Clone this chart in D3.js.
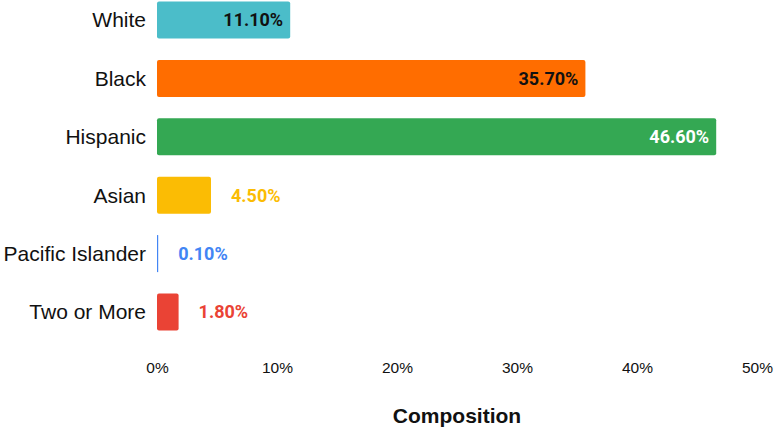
<!DOCTYPE html>
<html>
<head>
<meta charset="utf-8">
<script src="https://cdn.jsdelivr.net/npm/d3@7"></script>
<style>
  html, body { margin: 0; padding: 0; background: #fff; }
  svg { display: block; }
</style>
</head>
<body>
<svg id="chart" width="775" height="430"></svg>
<script>
// Student body composition by race / ethnicity (percent)
const categories = ["White", "Black", "Hispanic", "Asian", "Pacific Islander", "Two or More"];
const values = [11.1, 35.7, 46.6, 4.5, 0.1, 1.8];
const barColors = ["#4BBDC9", "#FF6D00", "#34A853", "#FBBC04", "#4285F4", "#EA4335"];
const insideLabelColors = ["#111", "#111", "#fff", null, null, null];
const tickValues = [0, 10, 20, 30, 40, 50];
const axisTitle = "Composition";

const svg = d3.select("#chart");

const x = d3.scaleLinear().domain([0, 50]).range([157, 757]);
const y = d3.scaleBand().domain(categories).range([1.5, 330.5])
  .paddingInner(0.366).paddingOuter(0);

const rows = categories.map((c, i) => ({
  cat: c, v: values[i], color: barColors[i], inner: insideLabelColors[i]
}));

// bars
svg.append("g").selectAll("rect").data(rows).join("rect")
  .attr("x", x(0))
  .attr("y", d => y(d.cat))
  .attr("width", d => Math.max(1.2, x(d.v) - x(0)))
  .attr("height", y.bandwidth())
  .attr("rx", d => (x(d.v) - x(0)) > 6 ? 2 : 0)
  .attr("fill", d => d.color);

// category labels
svg.append("g").selectAll("text").data(rows).join("text")
  .attr("x", 146)
  .attr("y", d => y(d.cat) + y.bandwidth() / 2)
  .attr("dy", "0.35em")
  .attr("text-anchor", "end")
  .attr("font-family", "'Liberation Sans', Arial, sans-serif")
  .attr("font-size", 21)
  .attr("fill", "#111")
  .text(d => d.cat);

// value labels: inside wide bars, outside narrow ones
svg.append("g").selectAll("text").data(rows).join("text")
  .attr("x", d => d.inner ? x(d.v) - 7 : x(d.v) + 20)
  .attr("y", d => y(d.cat) + y.bandwidth() / 2)
  .attr("dy", "0.36em")
  .attr("text-anchor", d => d.inner ? "end" : "start")
  .attr("font-family", "Roboto, 'Liberation Sans', sans-serif")
  .attr("font-weight", "bold")
  .attr("font-size", 18)
  .attr("fill", d => d.inner ? d.inner : d.color)
  .text(d => d.v.toFixed(2) + "%");

// x axis (labels only)
const axis = d3.axisBottom(x).tickValues(tickValues).tickFormat(d => d + "%").tickSize(0).tickPadding(0);
const gx = svg.append("g").attr("transform", "translate(0,362)").call(axis);
gx.select(".domain").remove();
gx.selectAll("text")
  .attr("font-family", "'Liberation Sans', Arial, sans-serif")
  .attr("font-size", 15.5)
  .attr("fill", "#111");

// axis title
svg.append("text")
  .attr("x", 457)
  .attr("y", 423)
  .attr("text-anchor", "middle")
  .attr("font-family", "'Liberation Sans', Arial, sans-serif")
  .attr("font-weight", "bold")
  .attr("font-size", 21)
  .attr("fill", "#111")
  .text(axisTitle);
</script>
</body>
</html>
